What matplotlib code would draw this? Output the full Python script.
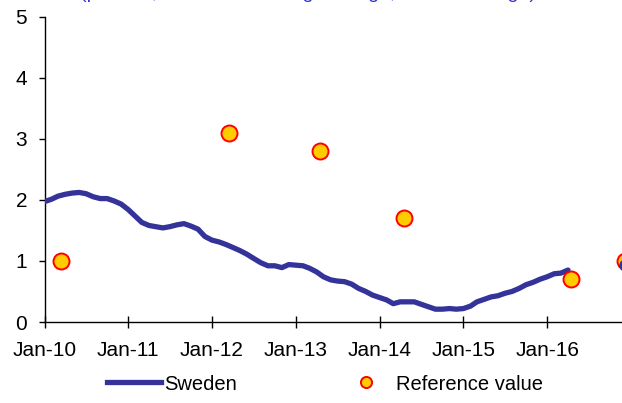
import matplotlib
matplotlib.use("Agg")
import matplotlib.pyplot as plt
import pandas as pd
from matplotlib.lines import Line2D

plt.rcParams['font.family'] = ['Liberation Sans', 'DejaVu Sans']

# Sweden, monthly from Jan-2010 to Apr-2016
sweden_start = "2010-01-01"
sweden_values = [
    1.97, 2.01, 2.06, 2.09, 2.11, 2.12, 2.10, 2.05, 2.02, 2.02, 1.98, 1.93,   # 2010
    1.84, 1.73, 1.63, 1.58, 1.56, 1.54, 1.56, 1.59, 1.61, 1.57, 1.52, 1.40,   # 2011
    1.34, 1.31, 1.27, 1.22, 1.17, 1.11, 1.04, 0.97, 0.92, 0.92, 0.89, 0.94,   # 2012
    0.93, 0.92, 0.88, 0.82, 0.74, 0.69, 0.67, 0.66, 0.62, 0.55, 0.50, 0.44,   # 2013
    0.40, 0.36, 0.30, 0.33, 0.33, 0.33, 0.29, 0.25, 0.21, 0.21, 0.22, 0.21,   # 2014
    0.22, 0.26, 0.33, 0.37, 0.41, 0.43, 0.47, 0.50, 0.55, 0.61, 0.65, 0.70,   # 2015
    0.74, 0.79, 0.80, 0.85,                                                   # 2016
]
sweden_extra_date = ["2016-12-07"]
sweden_extra_value = [0.93]

ref_dates = ["2010-03-16", "2012-03-14", "2013-04-16", "2014-04-18", "2016-04-12", "2016-12-06"]
ref_values = [1.0, 3.1, 2.8, 1.7, 0.7, 1.0]

tick_labels = ["Jan-10", "Jan-11", "Jan-12", "Jan-13", "Jan-14", "Jan-15", "Jan-16"]
tick_dates = ["2010-01-01", "2011-01-01", "2012-01-01", "2013-01-01",
              "2014-01-01", "2015-01-01", "2016-01-01"]

title_text = "(percent, 12-month moving average, annual change)"

W, H = 622, 403
fig = plt.figure(figsize=(W / 100, H / 100), dpi=100)

x0 = 44.5
x_end = 44.5 + 7 * 83.8
ax = fig.add_axes([x0 / W, 1 - 322 / H, (x_end - x0) / W, (322 - 16.5) / H])

navy = "#333399"
sweden_dates = pd.date_range(sweden_start, periods=len(sweden_values), freq="MS")
ax.plot(sweden_dates, sweden_values, color=navy, lw=3.8, solid_capstyle="round",
        solid_joinstyle="round", zorder=3)
ax.plot(pd.to_datetime(ref_dates), ref_values, ls="none", marker="o", ms=11.5,
        mfc="#FFCC00", mec="#FF0000", mew=1.4, zorder=4, clip_on=False)
ax.plot(pd.to_datetime(sweden_extra_date), sweden_extra_value, ls="none", marker="o",
        ms=8, color=navy, zorder=5, clip_on=False)

ax.set_xlim(pd.Timestamp("2010-01-01"), pd.Timestamp("2017-01-01"))
ax.set_ylim(0, 5)
ax.set_yticks([0, 1, 2, 3, 4, 5])
ax.set_xticks(pd.to_datetime(tick_dates))
ax.set_xticklabels(tick_labels)

for s in ["top", "right"]:
    ax.spines[s].set_visible(False)
for s in ["left", "bottom"]:
    ax.spines[s].set_linewidth(1.0)
    ax.spines[s].set_color("black")

ax.tick_params(axis="y", direction="out", length=4.5, width=1.0, pad=8, labelsize=15)
ax.tick_params(axis="x", direction="inout", length=9, width=1.0, pad=9, labelsize=15)

handles = [
    Line2D([], [], color=navy, lw=3.8),
    Line2D([], [], ls="none", marker="o", ms=8, mfc="#FFCC00", mec="#FF0000", mew=1.4),
]
fig.legend(handles, ["Sweden", "Reference value"], loc="center",
           bbox_to_anchor=(325 / W, 1 - 384 / H), ncol=2, frameon=False,
           fontsize=14.5, handlelength=2.65, handletextpad=0.15, columnspacing=5.1,
           borderaxespad=0, borderpad=0)

# title partly above the visible area, as in the reference crop
fig.text(80 / W, 1 + 2.5 / H, title_text, color="#3333CC", fontsize=14,
         ha="left", va="baseline")

fig.savefig("out.png", dpi=100)
